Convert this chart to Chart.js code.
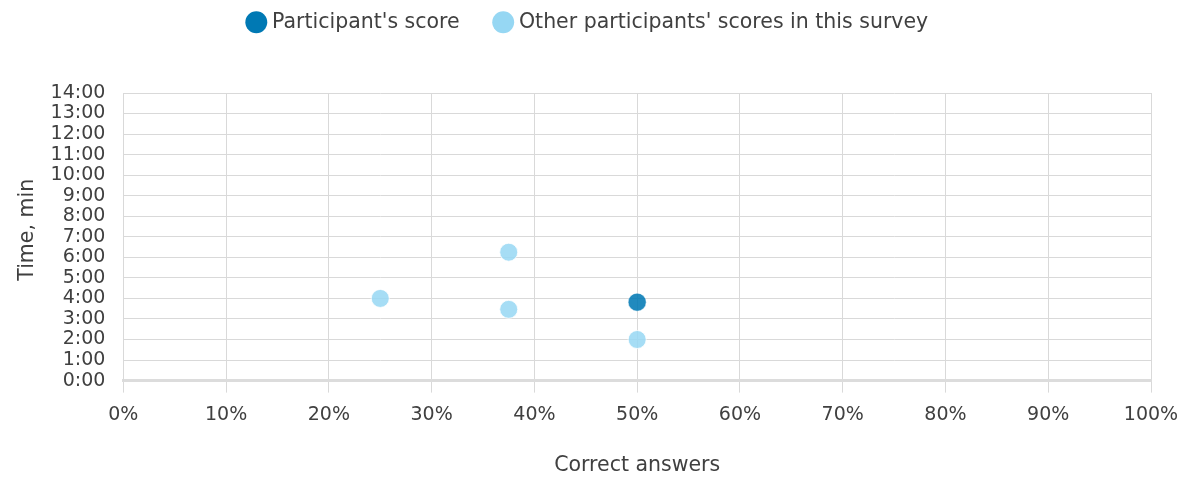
<!DOCTYPE html>
<html>
<head>
<meta charset="utf-8">
<script src="https://cdn.jsdelivr.net/npm/chart.js@4/dist/chart.umd.min.js"></script>
<style>
html,body{margin:0;padding:0;background:#fff;}
#wrap{width:1182px;height:478px;}
</style>
</head>
<body>
<div id="wrap"><canvas id="c" width="1182" height="478"></canvas></div>
<script>
// Data (x = correct answers %, y = time in minutes)
const participantLabel = "Participant's score";
const othersLabel = "Other participants' scores in this survey";
const participantX = [50];
const participantY = [3.82];
const othersX = [25, 37.5, 37.5, 50];
const othersY = [4.0, 6.25, 3.47, 2.0];
const yTickLabels = ['0:00','1:00','2:00','3:00','4:00','5:00','6:00','7:00','8:00','9:00','10:00','11:00','12:00','13:00','14:00'];
const xTickLabels = ['0%','10%','20%','30%','40%','50%','60%','70%','80%','90%','100%'];
const xTitle = 'Correct answers';
const yTitle = 'Time, min';

const toPts = (xs, ys) => xs.map((x, i) => ({x: x, y: ys[i]}));

const LEGEND_HEIGHT = 91;
const LEGEND_SHIFT_Y = 28;
const LEGEND_SHIFT_X = 9;
const Y_TITLE_SHIFT = 7;
const layoutTweaks = {
  id: 'layoutTweaks',
  beforeInit(chart) {
    const lg = chart.legend;
    const origFit = lg.fit;
    lg.fit = function () {
      origFit.call(this);
      this.height = LEGEND_HEIGHT;
      this.bottom = this.top + this.height;
    };
    const origDraw = lg.draw;
    lg.draw = function () {
      const ctx = this.ctx;
      ctx.save();
      ctx.translate(-LEGEND_SHIFT_X, -LEGEND_SHIFT_Y);
      origDraw.call(this);
      ctx.restore();
    };
  },
  afterLayout(chart) {
    const y = chart.scales.y;
    if (y && !y._titlePatched) {
      const orig = y.drawTitle;
      y.drawTitle = function () {
        const ctx = this.ctx;
        ctx.save();
        ctx.translate(0, -Y_TITLE_SHIFT);
        orig.apply(this, arguments);
        ctx.restore();
      };
      y._titlePatched = true;
    }
  }
};

Chart.defaults.font.family = '"DejaVu Sans", sans-serif';
Chart.defaults.color = '#404040';

new Chart(document.getElementById('c'), {
  type: 'scatter',
  data: {
    datasets: [
      {
        label: participantLabel,
        data: toPts(participantX, participantY),
        backgroundColor: 'rgba(0,121,180,0.87)',
        borderColor: 'rgba(255,255,255,0.45)',
        borderWidth: 1,
        pointRadius: 9,
        pointHoverRadius: 9,
        order: 0
      },
      {
        label: othersLabel,
        data: toPts(othersX, othersY),
        backgroundColor: 'rgba(150,215,243,0.85)',
        borderColor: 'rgba(255,255,255,0.8)',
        borderWidth: 1,
        pointRadius: 9,
        pointHoverRadius: 9,
        order: 1
      }
    ]
  },
  plugins: [layoutTweaks],
  options: {
    responsive: false,
    animation: false,
    layout: { padding: { left: 15, right: 0, top: 2, bottom: 0 } },
    plugins: {
      tooltip: { enabled: false },
      legend: {
        position: 'top',
        labels: {
          usePointStyle: true,
          pointStyle: 'circle',
          boxWidth: 11,
          boxHeight: 15.5,
          padding: 38,
          font: { size: 20.5 },
          color: '#404040',
          generateLabels(chart) {
            const cols = ['#0079b4', '#96d7f3'];
            return chart.data.datasets.map((d, i) => ({
              text: d.label,
              fillStyle: cols[i],
              strokeStyle: cols[i],
              lineWidth: 0,
              pointStyle: 'circle',
              datasetIndex: i,
              fontColor: '#404040'
            }));
          }
        }
      }
    },
    scales: {
      x: {
        type: 'linear',
        min: 0,
        max: 100,
        afterBuildTicks(axis) {
          axis.ticks = xTickLabels.map((_, i) => ({ value: i * 10 }));
        },
        afterFit(axis) {
          axis.paddingRight = 31;
        },
        ticks: {
          autoSkip: false,
          maxRotation: 0,
          padding: 11,
          font: { size: 19 },
          color: '#404040',
          callback(v, i) { return xTickLabels[i]; }
        },
        grid: {
          color: '#d9d9d9',
          lineWidth: 1,
          drawTicks: true,
          tickLength: 12
        },
        border: { color: '#dcdcdc', width: 3 },
        title: {
          display: true,
          text: xTitle,
          font: { size: 20.5 },
          color: '#404040',
          padding: { top: 16, bottom: 0 }
        }
      },
      y: {
        type: 'linear',
        min: 0,
        max: 14,
        afterBuildTicks(axis) {
          axis.ticks = yTickLabels.map((_, i) => ({ value: i }));
        },
        ticks: {
          autoSkip: false,
          padding: 18,
          font: { size: 19, lineHeight: 1 },
          color: '#404040',
          callback(v, i) { return yTickLabels[i]; }
        },
        grid: {
          color: '#d9d9d9',
          lineWidth: 1,
          drawTicks: false
        },
        border: { color: '#d9d9d9', width: 1 },
        title: {
          display: true,
          text: yTitle,
          font: { size: 20.5 },
          color: '#404040',
          padding: { top: 0, bottom: -7 }
        }
      }
    }
  }
});
</script>
</body>
</html>
